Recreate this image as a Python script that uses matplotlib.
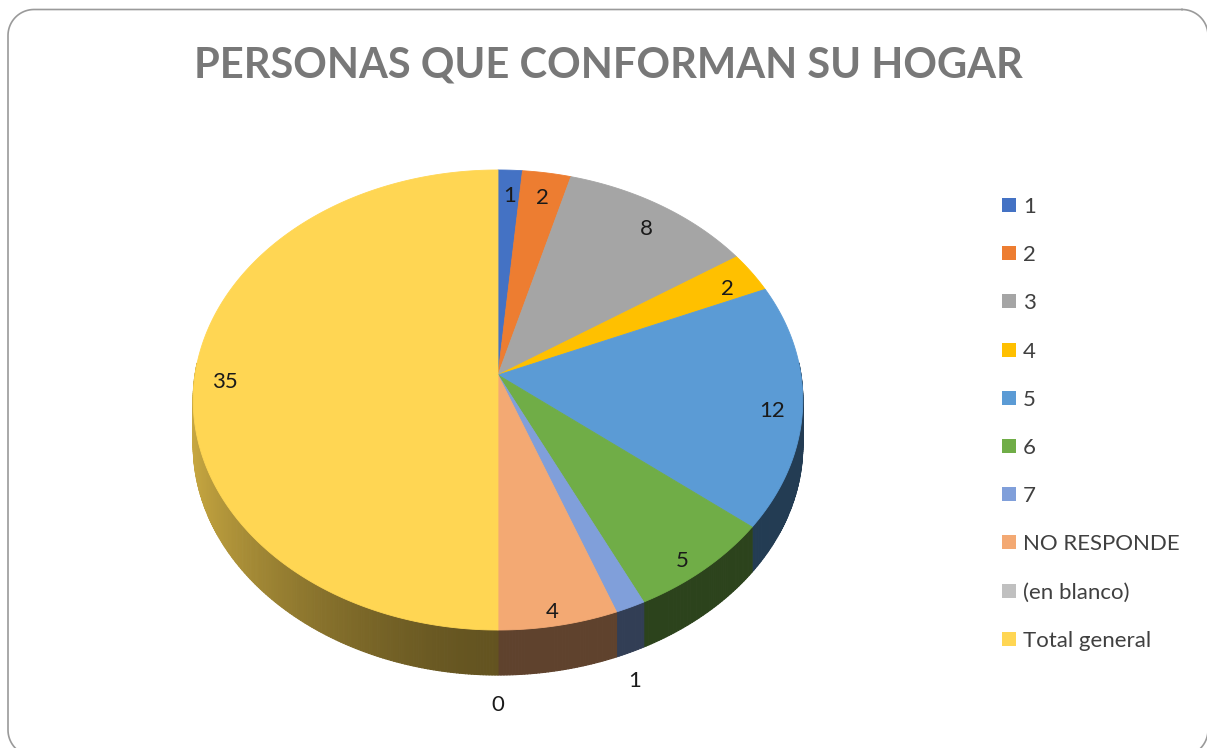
import numpy as np
import matplotlib
matplotlib.use("Agg")
import matplotlib.pyplot as plt
from matplotlib.collections import PolyCollection
from matplotlib.patches import Rectangle
from matplotlib.colors import to_rgb

# data
categories = ["1", "2", "3", "4", "5", "6", "7", "NO RESPONDE", "(en blanco)", "Total general"]
values = [1, 2, 8, 2, 12, 5, 1, 4, 0, 35]
colors = ["#4472C4", "#ED7D31", "#A5A5A5", "#FFC000", "#5B9BD5",
          "#70AD47", "#809FDA", "#F3A973", "#C0C0C0", "#FFD653"]
title = "PERSONAS QUE CONFORMAN SU HOGAR"

# layout of the fake 3d pie (pixel units)
CX, CY = 498, 375
RX, RY = 303, 227.3
K = 0.1087        # perspective strength
DEPTH = 45
FONT = "Lato"


# projects a point of the unit disc (radius r, angle th in degrees) to the screen
def proj(r, th):
    t = np.radians(th)
    u = r * np.cos(t)
    v = r * np.sin(t)
    d = 1 + K * v
    return CX + RX * u / d, CY - RY * v / d


# side lighting: lighter on the left, dark at the front and right
def shade(th):
    c = np.cos(np.radians(th))
    return 0.39 + 0.40 * max(0.0, -c) ** 1.6


# outline of a rounded rectangle (pixel units, y going down)
def rounded_rect(x0, y0, x1, y1, rad):
    xs, ys = [], []
    corners = [(x1 - rad, y0 + rad, -90, 0), (x1 - rad, y1 - rad, 0, 90),
               (x0 + rad, y1 - rad, 90, 180), (x0 + rad, y0 + rad, 180, 270)]
    for cx, cy, a0, a1 in corners:
        t = np.radians(np.linspace(a0, a1, 20))
        xs.extend(cx + rad * np.cos(t))
        ys.extend(cy + rad * np.sin(t))
    xs.append(xs[0])
    ys.append(ys[0])
    return xs, ys


fig = plt.figure(figsize=(12.07, 7.48), dpi=100)
ax = fig.add_axes([0, 0, 1, 1])
ax.set_xlim(0, 1207)
ax.set_ylim(748, 0)
ax.axis("off")

total = sum(values)
bounds = 90 - 360 * np.concatenate([[0], np.cumsum(values)]) / total

# side of the pie
strips, strip_cols, strip_v = [], [], []
for i, val in enumerate(values):
    if val == 0:
        continue
    a0, a1 = bounds[i], bounds[i + 1]
    n = max(2, int(abs(a0 - a1) / 0.5))
    ths = np.linspace(a0, a1, n + 1)
    for t0, t1 in zip(ths[:-1], ths[1:]):
        tm = (t0 + t1) / 2
        if np.sin(np.radians(tm)) > 0.05:
            continue
        x0, y0 = proj(1, t0)
        x1, y1 = proj(1, t1)
        strips.append([(x0, y0), (x1, y1), (x1, y1 + DEPTH), (x0, y0 + DEPTH)])
        base = np.array(to_rgb(colors[i]))
        strip_cols.append(tuple(base * shade(tm)))
        strip_v.append(np.sin(np.radians(tm)))
order = np.argsort(strip_v)[::-1]
pc = PolyCollection([strips[j] for j in order],
                    facecolors=[strip_cols[j] for j in order],
                    edgecolors=[strip_cols[j] for j in order], linewidths=0.8)
ax.add_collection(pc)

# top face
for i, val in enumerate(values):
    if val == 0:
        continue
    a0, a1 = bounds[i], bounds[i + 1]
    n = max(2, int(abs(a0 - a1) / 0.5))
    ths = np.linspace(a0, a1, n + 1)
    xs, ys = proj(1, ths)
    pts = [(CX, CY)] + list(zip(xs, ys))
    ax.fill(*zip(*pts), facecolor=colors[i], edgecolor=colors[i], lw=0.6)

# data labels
for i, val in enumerate(values):
    mid = (bounds[i] + bounds[i + 1]) / 2
    s = np.sin(np.radians(mid))
    if val / total < 0.02 and s < 0:
        lx, ly = proj(1.03, mid)
        ly += DEPTH + 19
    else:
        lx, ly = proj(0.9, mid)
        ly += 5 + 7 * max(0.0, -s)
    ax.text(lx, ly + 8, str(val), fontsize=16, family=FONT, color="#1a1a1a",
            ha="center", va="baseline")

# title
ax.text(608, 77, title, fontsize=30, family=FONT, fontweight="bold",
        color="#787878", ha="center", va="baseline")

# legend
for i, cat in enumerate(categories):
    yc = 205 + 48.2 * i
    ax.add_patch(Rectangle((1002, yc - 7), 14, 14, facecolor=colors[i], edgecolor="none"))
    ax.text(1023, yc + 8, cat, fontsize=16, family=FONT, color="#404040",
            ha="left", va="baseline")

# chart border, runs off the right and bottom edges
bx, by = rounded_rect(8, 9.5, 1208, 756, 26)
ax.plot(bx, by, color="#9a9a9a", lw=1.2)

fig.savefig("out.png", dpi=100)
